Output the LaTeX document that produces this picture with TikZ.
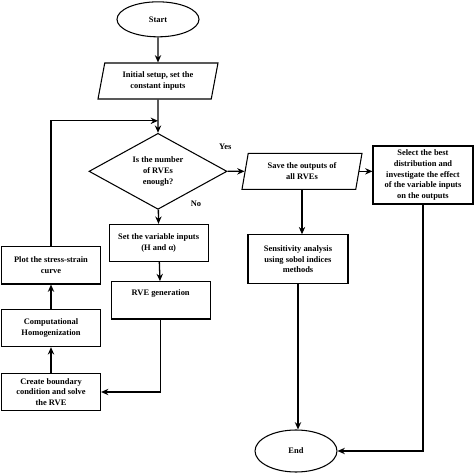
\documentclass[tikz,border=0pt]{standalone}
\usepackage{fontspec}
\setmainfont{Liberation Serif}
\usetikzlibrary{arrows.meta,positioning,calc,shapes.geometric}

\begin{document}
\begin{tikzpicture}[
  >={Stealth[length=2.2mm,width=1.9mm]},
  font=\fontsize{7.2}{9.2}\selectfont\bfseries,
  term/.style={ellipse,draw,line width=0.9pt,minimum width=24.6mm,minimum height=#1,inner sep=0pt},
  io/.style={trapezium,trapezium left angle=72,trapezium right angle=108,trapezium stretches body=true,
             draw,line width=0.9pt,minimum width=36mm,minimum height=10.8mm,align=center,inner sep=1pt},
  proc/.style={rectangle,draw,line width=0.9pt,minimum width=#1,minimum height=11.2mm,align=center,inner sep=1pt},
  proc/.default=29.7mm,
  cond/.style={diamond,draw,line width=0.9pt,aspect=1.82,minimum width=41.4mm,minimum height=22.8mm,
               align=center,inner sep=0pt},
  flow/.style={->,line width=1.1pt},
]
  \useasboundingbox (0,0) rectangle (14.22,14.22);

  % main column
  \node[term=10.5mm] (start) at (4.74,13.64) {Start};
  \node[io] (init) at (4.74,11.79) {Initial setup, set the\\constant inputs};
  \node[cond] (dec) at (4.74,9.08) {Is the number\\of RVEs\\enough?};
  \node[proc] (setvar) at (4.76,6.93) {Set the variable inputs\\(H and α)};
  \node[proc] (rvegen) at (4.82,5.21) {RVE generation\\[4pt]};
  % left column (loop back)
  \node[proc] (bc) at (1.53,2.46) {Create boundary\\condition and solve\\the RVE};
  \node[proc] (homog) at (1.53,4.38) {Computational\\Homogenization};
  \node[proc] (plot) at (1.53,6.26) {Plot the stress-strain\\curve};
  % right side
  \node[io] (save) at (9.06,9.08) {Save the outputs of\\all RVEs};
  \node[proc=30mm,minimum height=17.4mm] (select) at (12.69,8.97)
    {Select the best\\distribution and\\investigate the effect\\of the variable inputs\\on the outputs};
  \node[proc=30mm,minimum height=14.7mm] (sens) at (8.94,6.44) {Sensitivity analysis\\using sobol indices\\methods};
  \node[term=12.6mm] (end) at (8.88,0.69) {End};

  % labels
  \node (yes) at (6.76,9.81) {Yes};
  \node (no) at (5.88,8.1) {No};

  \coordinate (merge) at ($(dec.north)+(0,0.36)$);

  % flows
  \draw[flow] (start) -- (init);
  \draw[flow] (init) -- (dec);
  \draw[flow] (dec.east) -- (save.west);
  \draw[flow] (dec) -- (setvar);
  \draw[flow] (setvar) -- (rvegen);
  \draw[flow] (rvegen.south) |- (bc.east);
  \draw[flow] (bc) -- (homog);
  \draw[flow] (homog) -- (plot);
  \draw[flow] (plot.north) |- (merge);
  \draw[flow] (save.east) -- (save.east -| select.west);
  \draw[flow] (save.south) -- (save.south |- sens.north);
  \draw[flow] (sens.south) -- (sens.south |- end.north);
  \draw[flow] (select.south) |- (end.east);
\end{tikzpicture}
\end{document}
